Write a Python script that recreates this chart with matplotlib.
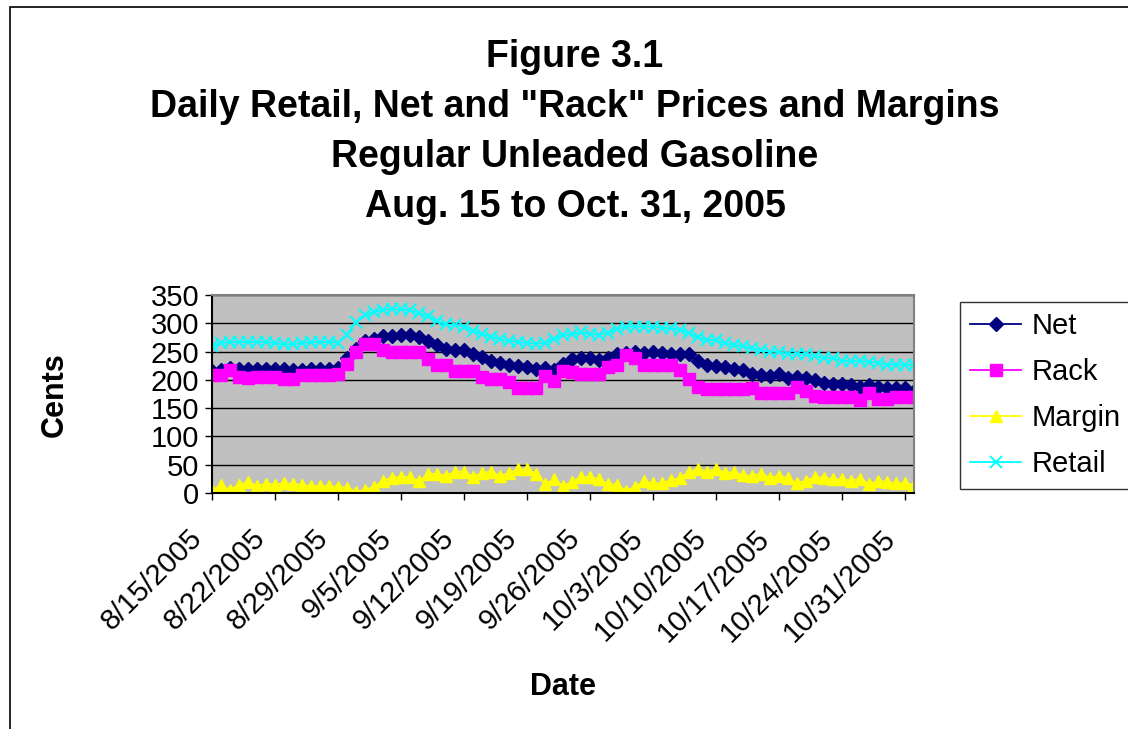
import matplotlib
matplotlib.use("Agg")
import matplotlib.pyplot as plt
import matplotlib.patches as patches
import matplotlib.transforms as mtransforms
import pandas as pd

plt.rcParams['font.family'] = ['Liberation Sans', 'DejaVu Sans']

# daily values, 8/15/2005 .. 11/1/2005 (cents)
fechas = pd.date_range('2005-08-15', periods=79, freq='D')

net = [215, 218, 221, 220, 220, 220, 220, 220, 220, 218, 218, 220, 220, 220, 221,
       238, 255, 268, 273, 277, 278, 279, 279, 276, 269, 262, 255, 253, 252, 246,
       240, 234, 230, 226, 224, 222, 220, 221, 218, 228, 236, 239, 239, 235, 239,
       245, 248, 250, 248, 249, 248, 246, 246, 245, 233, 226, 224, 222, 220, 217,
       211, 208, 207, 210, 204, 205, 204, 199, 195, 193, 193, 191, 187, 191, 187,
       186, 186, 186, 181]

rack = [208, 208, 217, 205, 203, 205, 205, 205, 201, 201, 208, 208, 208, 208, 210,
        228, 250, 264, 264, 252, 250, 250, 250, 250, 236, 227, 227, 215, 215, 215,
        205, 201, 201, 197, 185, 185, 185, 207, 198, 215, 214, 210, 210, 210, 222,
        227, 244, 239, 227, 227, 227, 227, 218, 201, 187, 183, 183, 183, 183, 183,
        186, 177, 177, 177, 177, 187, 180, 172, 169, 169, 169, 169, 164, 176, 166,
        166, 169, 169, 169]

margin = [5, 14, 5, 15, 19, 13, 16, 15, 17, 16, 14, 12, 12, 12, 11,
          9, 2, 6, 10, 22, 27, 28, 28, 21, 33, 34, 30, 38, 38, 29,
          35, 38, 30, 35, 42, 42, 34, 16, 24, 12, 20, 28, 28, 24, 16,
          14, 4, 11, 21, 17, 17, 23, 26, 38, 42, 38, 42, 36, 37, 31,
          30, 34, 27, 30, 26, 17, 22, 28, 27, 24, 24, 22, 25, 16, 21,
          20, 17, 17, 14]

retail = [260, 265, 267, 267, 267, 267, 267, 265, 263, 263, 265, 267, 267, 267, 266,
          280, 302, 314, 320, 324, 325, 325, 323, 318, 312, 304, 298, 297, 294, 287,
          281, 276, 272, 269, 267, 265, 264, 265, 272, 279, 281, 284, 281, 280, 283,
          290, 294, 294, 294, 294, 292, 291, 289, 282, 275, 271, 270, 265, 262, 259,
          256, 252, 250, 249, 246, 246, 245, 242, 239, 238, 234, 233, 233, 232, 230,
          227, 227, 227, 226]

semanas = pd.date_range('2005-08-15', '2005-10-31', freq='7D')
etiquetas = [f"{d.month}/{d.day}/{d.year}" for d in semanas]

titulos = ["Figure 3.1",
           "Daily Retail, Net and \"Rack\" Prices and Margins",
           "Regular Unleaded Gasoline",
           "Aug. 15 to Oct. 31, 2005"]

W, H = 1128, 729
fig = plt.figure(figsize=(W / 100, H / 100), dpi=100)
ax = fig.add_axes([212 / W, 1 - 493 / H, (914 - 212) / W, (493 - 295) / H])

# borde exterior del grafico
fig.add_artist(patches.Rectangle((10 / W, -0.1), 1.2, 1.1 - 7 / H, transform=fig.transFigure,
                                 fill=False, edgecolor='black', linewidth=1.2))

ax.set_facecolor('#C0C0C0')
for s in ax.spines.values():
    s.set_color('#808080')
    s.set_linewidth(1.5)
ax.spines['left'].set_color('black')
ax.spines['bottom'].set_color('black')

ax.plot(fechas, net, color='#000080', marker='D', markersize=7.5, linewidth=1.3, label='Net')
ax.plot(fechas, rack, color='#FF00FF', marker='s', markersize=8, linewidth=1.3, label='Rack')
ax.plot(fechas, margin, color='#FFFF00', marker='^', markersize=9, linewidth=1.3, label='Margin')
ax.plot(fechas, retail, color='#00FFFF', marker='x', markersize=8, markeredgewidth=1.4,
        linewidth=1.3, label='Retail')

ax.set_ylim(0, 350)
ax.set_yticks(range(0, 351, 50))
ax.set_xlim(fechas[0], fechas[-1])
ax.set_xticks(semanas)
ax.set_xticklabels(etiquetas, rotation=45, ha='right', va='top', rotation_mode='anchor')
ax.yaxis.grid(True, color='black', linewidth=1)
ax.set_axisbelow(True)
ax.tick_params(axis='both', labelsize=21, direction='out', length=5, width=1, color='black')
ax.tick_params(axis='x', pad=8)
ax.tick_params(axis='y', pad=4)

# desplazar etiquetas de fecha un poco abajo a la izquierda
desplaza = mtransforms.ScaledTranslation(-0.24, -0.13, fig.dpi_scale_trans)
for lab in ax.get_xticklabels():
    lab.set_transform(lab.get_transform() + desplaza)

fig.text(55 / W, 1 - 395 / H, 'Cents', rotation=90, ha='center', va='center',
         fontsize=22, fontweight='bold')
fig.text(563 / W, 1 - 687 / H, 'Date', ha='center', va='center', fontsize=22, fontweight='bold')

for i, t in enumerate(titulos):
    fig.text(575 / W, 1 - (57 + 50 * i) / H, t, ha='center', va='center',
             fontsize=27, fontweight='bold')

leg = ax.legend(loc='upper left', bbox_to_anchor=(960 / W, 1 - 302 / H),
                bbox_transform=fig.transFigure, frameon=True, fancybox=False,
                fontsize=21, handlelength=1.75, labelspacing=0.62, borderpad=0.35,
                handletextpad=0.35, borderaxespad=0)
leg.get_frame().set_edgecolor('black')
leg.get_frame().set_linewidth(1)

fig.savefig('out.png', dpi=100)
